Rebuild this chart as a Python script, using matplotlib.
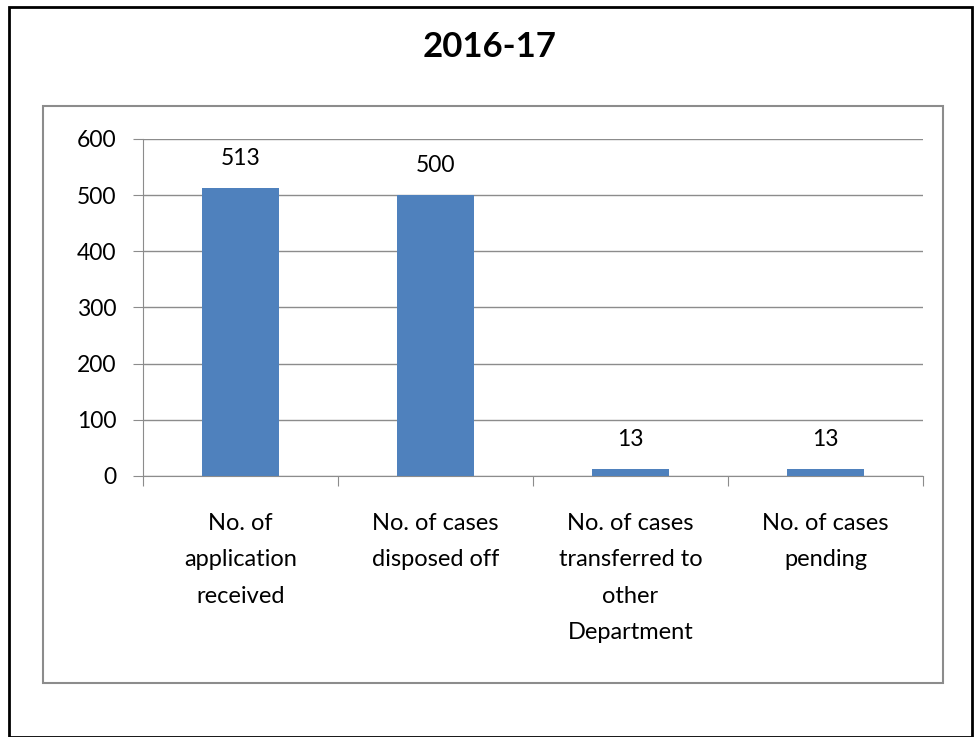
import matplotlib.pyplot as plt
from matplotlib.patches import Rectangle

categories = [
    "No. of\napplication\nreceived",
    "No. of cases\ndisposed off",
    "No. of cases\ntransferred to\nother\nDepartment",
    "No. of cases\npending",
]
values = [513, 500, 13, 13]
y_ticks = [0, 100, 200, 300, 400, 500, 600]

plt.rcParams["font.family"] = ["Lato", "DejaVu Sans"]

W, H = 977, 737
fig = plt.figure(figsize=(W / 100, H / 100), dpi=100)

# outer black frame and inner grey plot-area frame
fig.patches.append(Rectangle((9 / W, 0), 963 / W, 1 - 7 / H, transform=fig.transFigure,
                             fill=False, edgecolor="black", linewidth=2))
fig.patches.append(Rectangle((43 / W, 1 - 683 / H), 900 / W, 577 / H, transform=fig.transFigure,
                             fill=False, edgecolor="#8c8c8c", linewidth=1.5))

ax = fig.add_axes([143 / W, 1 - 476 / H, 780 / W, 337 / H])

x = range(len(categories))
bars = ax.bar(x, values, width=0.39, color="#4F81BD", zorder=3)

for xi, v in zip(x, values):
    ax.annotate(str(v), (xi, v), xytext=(0, 21), textcoords="offset points",
                ha="center", va="center", fontsize=16.5)

ax.set_xlim(-0.5, len(categories) - 0.5)
ax.set_ylim(0, 600)
ax.set_yticks(y_ticks)
ax.tick_params(axis="y", labelsize=16.5, length=7, color="#8c8c8c", pad=12)

# category labels centred, tick marks on category boundaries
ax.set_xticks([i - 0.5 for i in range(len(categories) + 1)])
ax.set_xticklabels([])
ax.tick_params(axis="x", length=7, color="#8c8c8c")
for xi, lab in zip(x, categories):
    ax.text(xi, -0.11, lab, transform=ax.get_xaxis_transform(), ha="center", va="top",
            fontsize=17, linespacing=1.9)

ax.grid(axis="y", color="#8c8c8c", linewidth=1, zorder=0)
for s in ["top", "right"]:
    ax.spines[s].set_visible(False)
for s in ["left", "bottom"]:
    ax.spines[s].set_color("#8c8c8c")

fig.text(490 / W, 1 - 47 / H, "2016-17", ha="center", va="center",
         fontsize=25, fontweight="bold")

fig.savefig("out.png", dpi=100)
